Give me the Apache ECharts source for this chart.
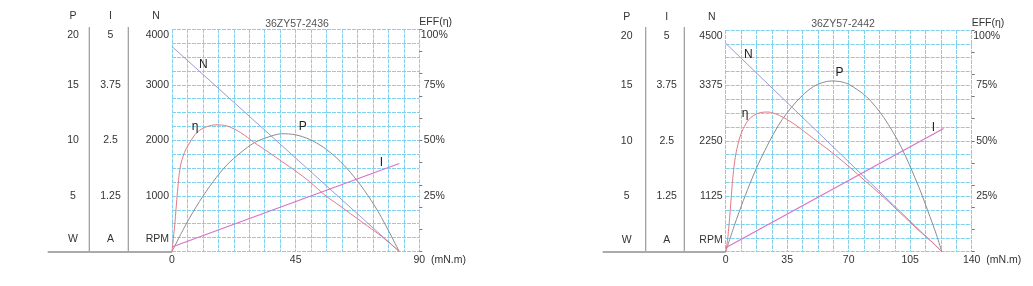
<!DOCTYPE html>
<html><head><meta charset="utf-8">
<script src="https://cdn.jsdelivr.net/npm/echarts@6/dist/echarts.min.js"></script>
<style>html,body{margin:0;padding:0;background:#fff}#c{width:1033px;height:286px}</style>
</head><body><div id="c"></div>
<script>
// ---------- data ----------
const titles = ['36ZY57-2436', '36ZY57-2442'];
const torqueMax = [90, 140];            // mN.m
const torqueLabelStep = [45, 35];
const speedMax = [4000, 4500];          // RPM
const speedLabelStep = [1000, 1125];
const powerMax = [20, 20];              // W
const powerLabelStep = [5, 5];
const currentMax = [5, 5];              // A
const currentLabelStep = [1.25, 1.25];
const effMax = [100, 100];              // %
const effLabelStep = [25, 25];
const effTickStep = [10, 10];

// chart 1 : 36ZY57-2436
const nTorque1 = [0, 82.7];
const nSpeed1 = [3690, 0];
const iTorque1 = [0, 82.7];
const iCurrent1 = [0.1, 1.98];
const pTorque1 = [0, 5, 10, 15, 20, 25, 30, 35, 40, 45, 50, 55, 60, 65, 70, 75, 80, 82.7];
const pPower1 = [0, 2.4, 4.5, 6.3, 7.8, 8.9, 9.8, 10.3, 10.6, 10.5, 10.1, 9.4, 8.4, 7.1, 5.5, 3.6, 1.3, 0];
const eTorque1 = [0, 0.5, 1, 2, 3, 4.5, 6, 8, 10, 13, 16, 20, 25, 30, 35, 40, 45, 50, 56, 60, 65, 70, 75, 80, 82.7];
const eEff1 = [0, 6, 12, 27, 38, 44.5, 48, 52, 54.5, 56.3, 57, 56.5, 53.5, 49, 44.8, 40.5, 36.2, 31.5, 25, 21.5, 17, 12.5, 8, 3, 0];

// chart 2 : 36ZY57-2442
const nTorque2 = [0, 123];
const nSpeed2 = [4230, 0];
const iTorque2 = [0, 124];
const iCurrent2 = [0.09, 2.78];
const pTorque2 = [0, 5, 10, 15, 20, 30, 40, 50, 60, 65, 70, 80, 90, 100, 110, 115, 120, 123];
const pPower2 = [0, 2.4, 4.6, 6.6, 8.4, 11.4, 13.5, 14.9, 15.4, 15.35, 15.1, 14.0, 12.1, 9.4, 5.8, 3.7, 1.5, 0];
const eTorque2 = [0, 1, 2, 3, 4, 5, 6, 8, 10, 13, 16, 20, 24, 28, 33, 40, 50, 60, 70, 80, 90, 100, 110, 118, 123];
const eEff2 = [0, 5, 13, 23, 33, 40, 45, 51.5, 55.5, 59.5, 61.5, 62.8, 63, 62.3, 60.5, 57, 51, 45, 38.5, 31.5, 24.5, 17, 9.5, 4, 0];

// curve name labels: [torque, value] in each curve's own axis units
const labelN = [[11.4, 3357], [12.9, 3993]];
const labelEta = [[8.4, 56.2], [11, 62.4]];
const labelP = [[47.6, 11.2], [64.7, 16.15]];
const labelI = [[76.2, 1.99], [118.2, 2.80]];

const curves = [
  {nT: nTorque1, nV: nSpeed1, iT: iTorque1, iV: iCurrent1, pT: pTorque1, pV: pPower1, eT: eTorque1, eV: eEff1},
  {nT: nTorque2, nV: nSpeed2, iT: iTorque2, iV: iCurrent2, pT: pTorque2, pV: pPower2, eT: eTorque2, eV: eEff2}
];

// ---------- layout / style ----------
const layouts = [
  {left: 172, right: 613.7, top: 29.3, bottom: 34.5, pOff: 99, iOff: 61.5, nPad: 32, base: 47.7, sep: [89.3, 128.3], titleX: 292, nameGapX: 5},
  {left: 725.7, right: 61.3, top: 30, bottom: 34.3, pOff: 99, iOff: 59, nPad: 28, base: 602.7, sep: [645.7, 684.3], titleX: 838, nameGapX: 9}
];
const FONT = '"Liberation Sans", Arial, Helvetica, sans-serif';
const TXT = '#333';
const FS = 10.5;
const GRIDC = '#7fd2ee';
const GRIDDASH = [4, 1];
const richDef = {
  t: {padding: [12, 0, 0, 0], fontSize: FS, fontFamily: FONT, color: TXT},
  b: {padding: [0, 0, 24, 0], fontSize: FS, fontFamily: FONT, color: TXT}
};
function isStep(v, s) { const r = v / s; return Math.abs(r - Math.round(r)) < 1e-6; }
function fmtVal(v) { return String(Math.round(v * 1000) / 1000); }
function colFormatter(max, step, unit, suffix) {
  return function (v) {
    if (Math.abs(v) < 1e-9) return unit ? '{b|' + unit + '}' : '';
    if (Math.abs(v - max) < 1e-6) return '{t|' + fmtVal(v) + (suffix || '') + '}';
    if (isStep(v, step)) return fmtVal(v) + (suffix || '');
    return '';
  };
}
function zip(a, b) { return a.map((x, i) => [x, b[i]]); }

const grid = [], xAxis = [], yAxis = [], series = [], title = [], graphic = [];
for (let k = 0; k < 2; k++) {
  const L = layouts[k];
  grid.push({left: L.left, right: L.right, top: L.top, bottom: L.bottom, containLabel: false, outerBoundsMode: 'none'});
  title.push({text: titles[k], left: L.titleX, top: 14, textAlign: 'center',
    textStyle: {fontSize: 10.5, fontWeight: 'normal', color: '#555', fontFamily: FONT}});
  xAxis.push({
    gridIndex: k, type: 'value', min: 0, max: torqueMax[k], interval: torqueMax[k] / 16,
    axisLine: {show: false}, axisTick: {show: false},
    axisLabel: {margin: 3, color: TXT, fontSize: FS, fontFamily: FONT,
      formatter: v => isStep(v, torqueLabelStep[k]) ? fmtVal(v) : ''},
    name: '(mN.m)', nameLocation: 'end', nameGap: L.nameGapX,
    nameTextStyle: {color: TXT, fontSize: FS, fontFamily: FONT, align: 'left', verticalAlign: 'top', padding: [3, 0, 0, 0]},
    splitLine: {show: true, lineStyle: {color: GRIDC, width: 1, type: GRIDDASH}}
  });
  const nameStyle = {color: TXT, fontSize: FS, fontFamily: FONT, align: 'center', verticalAlign: 'middle'};
  // N axis (carries horizontal grid lines)
  yAxis.push({
    gridIndex: k, type: 'value', min: 0, max: speedMax[k], interval: speedMax[k] / 16, position: 'left', offset: 0,
    name: 'N', nameLocation: 'end', nameGap: 12.8,
    nameTextStyle: Object.assign({}, nameStyle, {padding: [0, L.nPad, 0, 0]}),
    axisLine: {show: false}, axisTick: {show: false},
    axisLabel: {margin: 3, color: TXT, fontSize: FS, fontFamily: FONT, rich: richDef,
      formatter: colFormatter(speedMax[k], speedLabelStep[k], 'RPM')},
    splitLine: {show: true, lineStyle: {color: GRIDC, width: 1, type: GRIDDASH}}
  });
  // P axis
  yAxis.push({
    gridIndex: k, type: 'value', min: 0, max: powerMax[k], interval: powerMax[k] / 16, position: 'left', offset: L.pOff,
    name: 'P', nameLocation: 'end', nameGap: 12.8, nameTextStyle: nameStyle,
    axisLine: {show: false}, axisTick: {show: false},
    axisLabel: {margin: 0, align: 'center', color: TXT, fontSize: FS, fontFamily: FONT, rich: richDef,
      formatter: colFormatter(powerMax[k], powerLabelStep[k], 'W')},
    splitLine: {show: false}
  });
  // I axis
  yAxis.push({
    gridIndex: k, type: 'value', min: 0, max: currentMax[k], interval: currentMax[k] / 16, position: 'left', offset: L.iOff,
    name: 'I', nameLocation: 'end', nameGap: 12.8, nameTextStyle: nameStyle,
    axisLine: {show: false}, axisTick: {show: false},
    axisLabel: {margin: 0, align: 'center', color: TXT, fontSize: FS, fontFamily: FONT, rich: richDef,
      formatter: colFormatter(currentMax[k], currentLabelStep[k], 'A')},
    splitLine: {show: false}
  });
  // EFF labels
  yAxis.push({
    gridIndex: k, type: 'value', min: 0, max: effMax[k], interval: effLabelStep[k], position: 'right', offset: 0,
    name: 'EFF(η)', nameLocation: 'end', nameGap: 7,
    nameTextStyle: {color: TXT, fontSize: FS, fontFamily: FONT, align: 'left', verticalAlign: 'middle'},
    axisLine: {show: false}, axisTick: {show: false},
    axisLabel: {margin: 15, align: 'center', color: TXT, fontSize: FS, fontFamily: FONT, rich: richDef,
      formatter: colFormatter(effMax[k], effLabelStep[k], '', '%')},
    splitLine: {show: false}
  });
  // EFF minor ticks
  yAxis.push({
    gridIndex: k, type: 'value', min: 0, max: effMax[k], interval: effTickStep[k], position: 'right', offset: 0,
    axisLine: {show: false}, axisTick: {show: true, length: 3, lineStyle: {color: '#777', width: 1}},
    axisLabel: {show: false}, splitLine: {show: false}
  });
  const base = 5 * k;
  const C = curves[k];
  const mk = (txt, coord) => ({
    symbol: 'circle', symbolSize: 0, silent: true,
    label: {show: true, position: 'inside', formatter: txt, color: '#222', fontSize: 12, fontFamily: FONT},
    data: [{coord: coord}]
  });
  const common = {type: 'line', xAxisIndex: k, symbol: 'none', silent: true, animation: false};
  series.push(Object.assign({}, common, {name: 'N' + k, yAxisIndex: base, data: zip(C.nT, C.nV),
    lineStyle: {color: '#9a9ad2', width: 1}, markPoint: mk('N', labelN[k])}));
  series.push(Object.assign({}, common, {name: 'P' + k, yAxisIndex: base + 1, data: zip(C.pT, C.pV), smooth: 0.3,
    lineStyle: {color: '#8c8c8c', width: 1}, markPoint: mk('P', labelP[k])}));
  series.push(Object.assign({}, common, {name: 'I' + k, yAxisIndex: base + 2, data: zip(C.iT, C.iV),
    lineStyle: {color: '#d873c8', width: 1.2}, markPoint: mk('I', labelI[k])}));
  series.push(Object.assign({}, common, {name: 'E' + k, yAxisIndex: base + 3, data: zip(C.eT, C.eV), smooth: 0.3,
    lineStyle: {color: '#e27a82', width: 1}, markPoint: mk('η', labelEta[k])}));
  // decorations: column separators and baseline
  const yb = 252;
  L.sep.forEach(x => graphic.push({type: 'line', silent: true, shape: {x1: x, y1: 27, x2: x, y2: yb},
    style: {stroke: '#999', lineWidth: 1.2}}));
  graphic.push({type: 'line', silent: true, shape: {x1: L.base, y1: yb, x2: L.left, y2: yb},
    style: {stroke: '#aaa', lineWidth: 2}});
}

const chart = echarts.init(document.getElementById('c'), null, {renderer: 'canvas'});
chart.setOption({animation: false, backgroundColor: '#fff', title, grid, xAxis, yAxis, series, graphic});
</script>
</body></html>
